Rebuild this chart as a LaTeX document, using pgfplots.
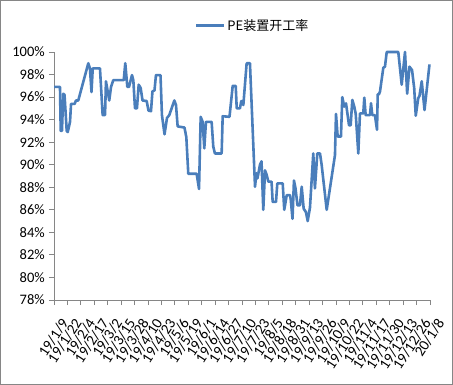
\documentclass[border=0pt]{standalone}
\usepackage{pgfplots}
\pgfplotsset{compat=1.18}
\usepackage{fontspec}
\setmainfont{Carlito}
\newfontfamily\cjk{Noto Sans CJK SC}
\definecolor{serblue}{HTML}{4A7EBB}
\definecolor{axgray}{HTML}{868686}
\begin{document}
\begin{tikzpicture}
\useasboundingbox (-54bp,-85bp) rectangle (399bp,300bp);
\draw[axgray, line width=0.9bp] (-53.5bp,-84.5bp) rectangle (398.5bp,299.5bp);
\begin{axis}[
  at={(0,0)}, anchor=south west,
  scale only axis, width=376bp, height=248bp,
  xmin=0, xmax=364, ymin=78, ymax=100,
  axis lines=left, axis line style={axgray, line width=0.9bp, -},
  every tick/.style={axgray, line width=0.9bp},
  tick align=outside, major tick length=5bp,
  xtick={0,13,...,364},
  xticklabels={19/1/9,19/1/22,19/2/4,19/2/17,19/3/2,19/3/15,19/3/28,19/4/10,19/4/23,19/5/6,19/5/19,19/6/1,19/6/14,19/6/27,19/7/10,19/7/23,19/8/5,19/8/18,19/8/31,19/9/13,19/9/26,19/10/9,19/10/22,19/11/4,19/11/17,19/11/30,19/12/13,19/12/26,20/1/8},
  xticklabel style={font=\fontsize{15bp}{17bp}\selectfont, xshift=6bp, yshift=-11bp, rotate=57, anchor=north east, inner sep=0.5bp},
  ytick={78,80,...,100},
  yticklabel={\pgfmathprintnumber{\tick}\%},
  yticklabel style={font=\fontsize{14.5bp}{16bp}\selectfont, inner sep=1bp, xshift=-3bp},
  /pgf/number format/assume math mode=true,
  legend style={at={(0.528,1.107)}, anchor=center, draw=none, fill=none,
    font=\cjk\fontsize{13bp}{15bp}\selectfont, inner sep=0pt},
  legend image code/.code={\draw[#1, line width=2.6bp] (0bp,0bp) -- (28bp,0bp);},
  clip=false,
]
\addplot[serblue, line width=2.6bp, line join=round] coordinates {
(0,96.9) (5.8,96.9) (6.5,93.0) (7.7,93.0) (9.0,96.3) (10.2,96.2) (12.3,93.0) (13.3,92.9)
(15.5,93.8) (16.5,95.4) (20.0,95.4) (21.3,95.7) (23.5,95.7) (33.2,99.0) (34.8,98.55)
(36.3,96.45) (37.5,98.55) (44.5,98.55) (47.1,94.4) (49.4,94.4) (50.3,97.4) (53.5,95.7)
(55.2,96.9) (57.4,97.5) (67.5,97.5) (69.0,99.0) (71.0,96.9) (72.6,96.9) (75.5,97.95)
(76.8,97.5) (78.4,95.0) (80.3,95.0) (82.0,97.1) (83.9,96.8) (85.7,95.7) (89.7,95.65)
(91.5,94.8) (93.9,94.75) (95.3,96.5) (97.3,96.6) (98.7,97.95) (103.1,97.95) (104.5,94.4)
(107.0,92.7) (109.4,94.15) (111.6,94.4) (116.5,95.7) (118.1,95.3) (119.7,93.4) (126.3,93.3)
(128.1,92.45) (130.0,89.2) (138.1,89.2) (140.4,87.85) (142.0,94.25) (143.9,93.8) (145.5,91.45)
(147.1,93.8) (152.6,93.8) (154.2,91.6) (155.8,91.0) (162.3,91.0) (163.3,94.3) (169.9,94.25)
(173.0,97.0) (175.9,97.0) (176.9,95.0) (180.0,95.0) (181.3,95.65) (183.3,95.3) (186.5,99.0)
(189.7,99.0) (194.6,88.05) (196.0,89.25) (197.0,88.8) (199.4,90.0) (200.9,90.3) (202.6,86.0)
(204.3,89.5) (205.9,89.1) (207.5,88.5) (210.6,88.5) (211.7,86.7) (214.9,86.7) (216.2,88.35)
(221.4,88.35) (222.9,86.0) (225.3,87.3) (228.5,87.3) (229.2,86.9) (230.9,85.2) (232.3,88.6)
(233.8,87.9) (235.7,86.4) (238.1,86.4) (239.8,88.05) (241.7,86.1) (243.9,85.8) (245.6,85.0)
(247.8,86.2) (251.0,91.0) (252.6,87.9) (254.9,91.0) (257.5,91.0) (259.1,90.0) (264.0,86.0)
(272.0,90.85) (273.0,94.5) (274.6,92.5) (277.8,92.5) (279.1,96.0) (281.0,95.15) (282.7,95.45)
(285.6,93.5) (287.2,93.5) (288.8,95.75) (290.7,95.15) (292.1,94.5) (294.6,91.0) (296.2,94.55)
(299.4,94.55) (300.4,95.95) (301.7,94.4) (305.9,94.4) (306.9,95.45) (308.1,94.4) (310.7,94.4)
(312.7,93.1) (313.4,96.25) (314.6,96.25) (315.6,96.5) (318.8,98.6) (320.4,98.7) (322.1,100)
(333.3,100) (336.6,97.1) (339.8,100) (341.9,96.3) (344.1,98.7) (346.6,98.4) (348.7,96.8)
(350.2,94.35) (352.6,95.9) (353.8,96.1) (356.0,97.4) (358.7,94.85) (363.5,98.9)
};
\addlegendentry{PE装置开工率}
\end{axis}
\end{tikzpicture}
\end{document}
